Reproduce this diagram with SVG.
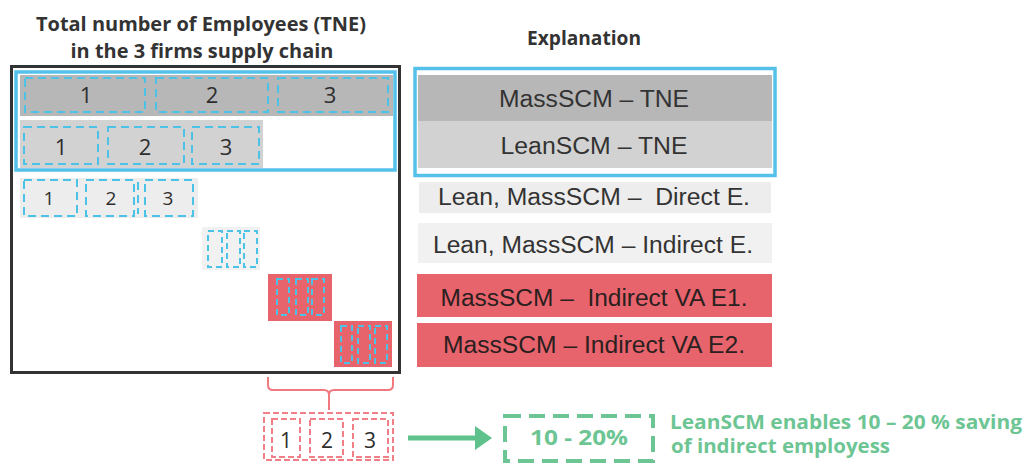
<svg xmlns="http://www.w3.org/2000/svg" width="1030" height="463" viewBox="0 0 1030 463">
<style>
.title{font-family:"Open Sans","Liberation Sans",sans-serif;font-weight:bold;font-size:19.5px;fill:#333;text-anchor:middle}
.lbl{font-family:"Liberation Sans",Arial,sans-serif;font-size:23px;fill:#333;text-anchor:middle;white-space:pre}
.dig{font-family:"Open Sans","Liberation Sans",sans-serif;font-size:22px;fill:#2e2e2e;text-anchor:middle}
.cy{fill:none;stroke:#4cc3e6;stroke-width:2;stroke-dasharray:8 5}
.cyn{fill:none;stroke:#4cc3e6;stroke-width:2;stroke-dasharray:6 4}
.rd{fill:none;stroke:#f07f87;stroke-width:2;stroke-dasharray:6 3}
.g1{fill:#b7b7b7}.g2{fill:#d2d2d2}.g3{fill:#ededed}.g4{fill:#f1f1f1}.red{fill:#e8646c}
.green{font-family:"Open Sans","Liberation Sans",sans-serif;font-weight:bold;fill:#6cc593}
</style>
<rect width="1030" height="463" fill="#fff"/>
<g id="titles">
<text class="title" x="201" y="31" textLength="330" lengthAdjust="spacingAndGlyphs">Total number of Employees (TNE)</text>
<text class="title" x="202" y="58" textLength="263" lengthAdjust="spacingAndGlyphs">in the 3 firms supply chain</text>
<text class="title" x="584" y="45" textLength="114" lengthAdjust="spacingAndGlyphs">Explanation</text>
</g>
<g id="chart">
<rect x="11.5" y="66.5" width="388" height="306" fill="none" stroke="#333" stroke-width="3"/>
<g id="row1">
<rect class="g1" x="20" y="75" width="373" height="41"/>
<rect class="cy" x="25" y="78" width="120" height="34"/>
<rect class="cy" x="156" y="78" width="112" height="34"/>
<rect class="cy" x="278" y="78" width="110" height="34"/>
<text class="dig" x="86" y="103">1</text>
<text class="dig" x="212" y="103">2</text>
<text class="dig" x="330" y="103">3</text>
</g>
<g id="row2">
<rect class="g2" x="20" y="120" width="243" height="48"/>
<rect class="cy" x="24" y="127" width="74" height="37"/>
<rect class="cy" x="108" y="127" width="76" height="37"/>
<rect class="cy" x="192" y="127" width="67" height="37"/>
<text class="dig" x="61" y="155">1</text>
<text class="dig" x="145" y="155">2</text>
<text class="dig" x="226" y="155">3</text>
</g>
<rect x="16" y="72" width="379" height="98" fill="none" stroke="#55c0ea" stroke-width="3.5"/>
<g id="row3">
<rect class="g3" x="20" y="178" width="178" height="40"/>
<rect class="cy" x="24" y="180" width="53" height="36"/>
<rect class="cy" x="86" y="180" width="48" height="36"/>
<rect class="cy" x="145" y="180" width="48" height="36"/>
<line x1="138" y1="182" x2="138" y2="214" class="cy"/>
<text class="dig" x="49" y="205" style="font-size:19px">1</text>
<text class="dig" x="111" y="205" style="font-size:19px">2</text>
<text class="dig" x="168" y="205" style="font-size:19px">3</text>
</g>
<g id="row4">
<rect class="g4" x="202" y="227" width="58" height="43"/>
<rect class="cyn" x="208" y="231" width="14" height="36"/>
<rect class="cyn" x="227" y="231" width="13" height="36"/>
<rect class="cyn" x="244" y="231" width="13" height="36"/>
</g>
<g id="row5">
<rect class="red" x="268" y="274" width="64" height="47"/>
<rect class="cyn" x="277" y="279" width="12" height="36"/>
<rect class="cyn" x="296" y="279" width="12" height="36"/>
<rect class="cyn" x="312" y="279" width="12" height="36"/>
</g>
<g id="row6">
<rect class="red" x="334" y="321" width="58" height="46"/>
<rect class="cyn" x="341" y="326" width="11" height="37"/>
<rect class="cyn" x="358" y="326" width="12" height="37"/>
<rect class="cyn" x="375" y="326" width="12" height="37"/>
</g>
</g>
<g id="legend">
<g id="l1"><rect class="g1" x="418" y="75" width="354" height="46"/><text class="lbl" x="594" y="107" textLength="190" lengthAdjust="spacingAndGlyphs">MassSCM – TNE</text></g>
<g id="l2"><rect class="g2" x="418" y="121" width="354" height="47"/><text class="lbl" x="594" y="154" textLength="187" lengthAdjust="spacingAndGlyphs">LeanSCM – TNE</text></g>
<rect x="415" y="68.5" width="360" height="107" fill="none" stroke="#55c0ea" stroke-width="3.5"/>
<g id="l3"><rect class="g3" x="419" y="182" width="352" height="31"/><text class="lbl" x="594" y="205" textLength="312" lengthAdjust="spacingAndGlyphs">Lean, MassSCM –  Direct E.</text></g>
<g id="l4"><rect class="g4" x="418" y="223" width="354" height="40"/><text class="lbl" x="593" y="253" textLength="320" lengthAdjust="spacingAndGlyphs">Lean, MassSCM – Indirect E.</text></g>
<g id="l5"><rect class="red" x="417" y="274" width="355" height="43"/><text class="lbl" x="594" y="306" textLength="307" lengthAdjust="spacingAndGlyphs" style="fill:#2a2020">MassSCM –  Indirect VA E1.</text></g>
<g id="l6"><rect class="red" x="417" y="323" width="355" height="44"/><text class="lbl" x="594" y="353" textLength="302" lengthAdjust="spacingAndGlyphs" style="fill:#2a2020">MassSCM – Indirect VA E2.</text></g>
</g>
<g id="connectors">
<path d="M268,377 V385 Q268,390 273,390 H324 Q329,390 329,395 V410 M329,395 Q329,390 334,390 H388 Q393,390 393,385 V377" fill="none" stroke="#f07a80" stroke-width="2"/>
<line x1="408" y1="438" x2="478" y2="438" stroke="#5fc18c" stroke-width="5"/>
<polygon points="475,426 492,438 475,450" fill="#5fc18c"/>
</g>
<g id="saving">
<rect class="rd" x="264" y="413" width="129" height="47"/>
<rect class="rd" x="272" y="419" width="28" height="38"/>
<rect class="rd" x="310" y="419" width="33" height="38"/>
<rect class="rd" x="353" y="419" width="35" height="38"/>
<text class="dig" x="286" y="448" style="font-size:21px">1</text>
<text class="dig" x="327" y="448" style="font-size:21px">2</text>
<text class="dig" x="370" y="448" style="font-size:21px">3</text>
</g>
<g id="result">
<rect x="505" y="416" width="148" height="45" fill="none" stroke="#6cc593" stroke-width="4" stroke-dasharray="16 8"/>
<text class="green" x="579" y="445" text-anchor="middle" style="font-size:22px" textLength="98" lengthAdjust="spacingAndGlyphs">10 - 20%</text>
<text class="green" x="670" y="429" style="font-size:19px" textLength="352" lengthAdjust="spacingAndGlyphs">LeanSCM enables 10 – 20 % saving</text>
<text class="green" x="671" y="453" style="font-size:19px" textLength="219" lengthAdjust="spacingAndGlyphs">of indirect employess</text>
</g>
</svg>
